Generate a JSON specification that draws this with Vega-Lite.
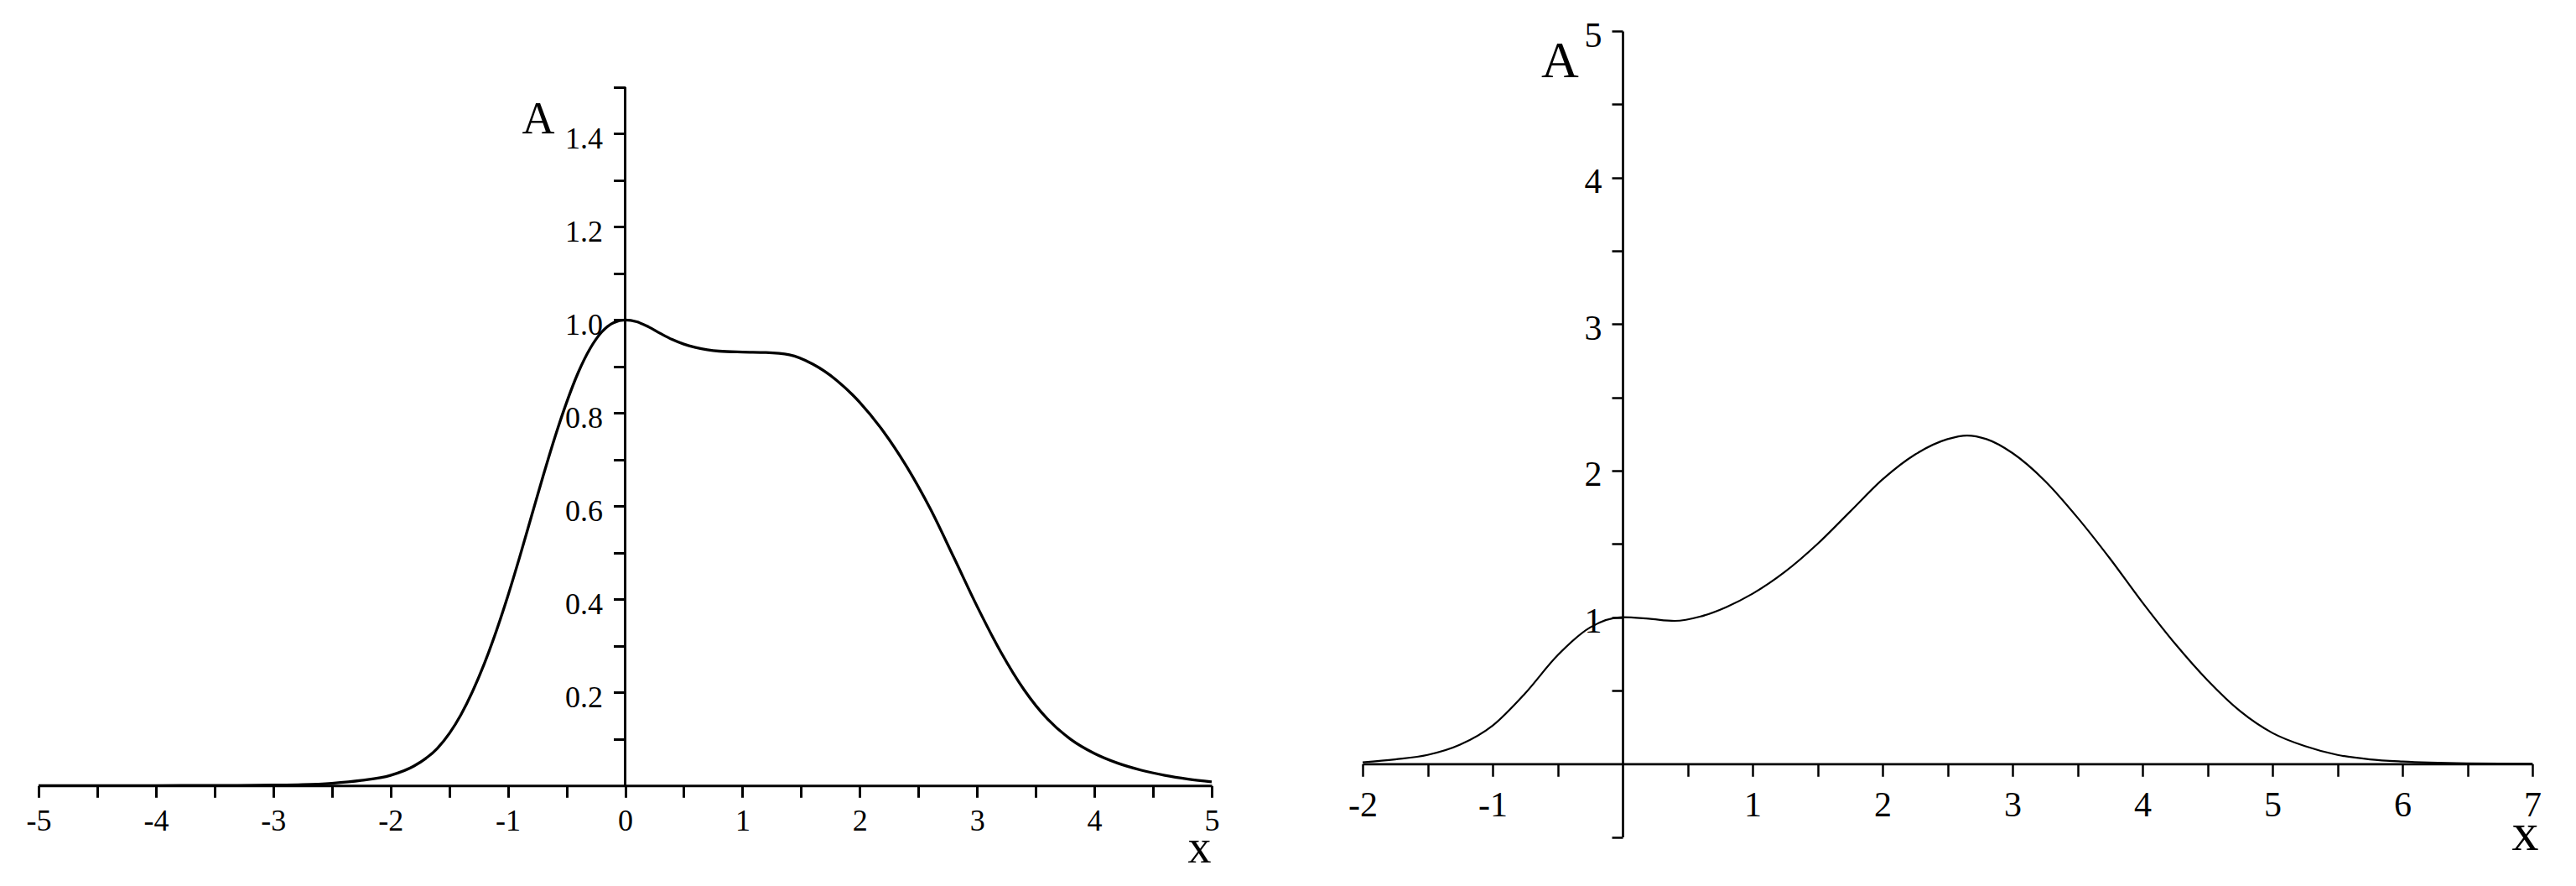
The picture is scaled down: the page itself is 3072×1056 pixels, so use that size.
{
  "$schema": "https://vega.github.io/schema/vega-lite/v6.json",
  "background": "white",
  "autosize": {"type": "pad"},
  "padding": {"left": 31, "top": 21, "right": 0, "bottom": 0},
  "bounds": "flush",
  "spacing": 180,
  "config": {
    "view": {"stroke": null},
    "axis": {
      "domainColor": "black", "tickColor": "black", "labelColor": "black", "titleColor": "black",
      "labelFont": "Liberation Serif", "titleFont": "Liberation Serif", "grid": false,
      "labelFlush": false, "labelOverlap": false, "titleFontWeight": "normal", "tickCap": "butt", "domainCap": "butt"
    }
  },
  "datasets": {
    "left": [
      {"x": -5, "A": 0.0}, {"x": -4.5, "A": 0.0}, {"x": -4, "A": 0.0}, {"x": -3.5, "A": 0.0003},
      {"x": -3, "A": 0.001}, {"x": -2.75, "A": 0.002}, {"x": -2.5, "A": 0.005}, {"x": -2.25, "A": 0.011},
      {"x": -2.0, "A": 0.022}, {"x": -1.8, "A": 0.042}, {"x": -1.6, "A": 0.08}, {"x": -1.4, "A": 0.152},
      {"x": -1.2, "A": 0.262}, {"x": -1.0, "A": 0.407}, {"x": -0.9, "A": 0.49}, {"x": -0.8, "A": 0.577},
      {"x": -0.7, "A": 0.664}, {"x": -0.6, "A": 0.747}, {"x": -0.5, "A": 0.822}, {"x": -0.4, "A": 0.887},
      {"x": -0.3, "A": 0.938}, {"x": -0.2, "A": 0.974}, {"x": -0.1, "A": 0.994}, {"x": 0, "A": 1.0},
      {"x": 0.1, "A": 0.996}, {"x": 0.2, "A": 0.985}, {"x": 0.3, "A": 0.971}, {"x": 0.4, "A": 0.958},
      {"x": 0.5, "A": 0.948}, {"x": 0.6, "A": 0.941}, {"x": 0.7, "A": 0.936}, {"x": 0.8, "A": 0.933},
      {"x": 1.0, "A": 0.931}, {"x": 1.2, "A": 0.93}, {"x": 1.4, "A": 0.925}, {"x": 1.6, "A": 0.905},
      {"x": 1.8, "A": 0.871}, {"x": 2.0, "A": 0.823}, {"x": 2.2, "A": 0.761}, {"x": 2.4, "A": 0.685},
      {"x": 2.6, "A": 0.595}, {"x": 2.8, "A": 0.491}, {"x": 3.0, "A": 0.385}, {"x": 3.2, "A": 0.288},
      {"x": 3.4, "A": 0.206}, {"x": 3.6, "A": 0.143}, {"x": 3.8, "A": 0.099}, {"x": 4.0, "A": 0.069},
      {"x": 4.2, "A": 0.048}, {"x": 4.4, "A": 0.033}, {"x": 4.6, "A": 0.022}, {"x": 4.8, "A": 0.014},
      {"x": 5.0, "A": 0.008}
    ],
    "right": [
      {"x": -2, "A": 0.01}, {"x": -1.75, "A": 0.03}, {"x": -1.5, "A": 0.06}, {"x": -1.25, "A": 0.13},
      {"x": -1, "A": 0.26}, {"x": -0.75, "A": 0.48}, {"x": -0.5, "A": 0.74}, {"x": -0.25, "A": 0.93},
      {"x": 0, "A": 1.0}, {"x": 0.2, "A": 0.99}, {"x": 0.4, "A": 0.975}, {"x": 0.6, "A": 1.005},
      {"x": 0.8, "A": 1.07}, {"x": 1.0, "A": 1.16}, {"x": 1.25, "A": 1.31}, {"x": 1.5, "A": 1.5},
      {"x": 1.75, "A": 1.72}, {"x": 2.0, "A": 1.94}, {"x": 2.25, "A": 2.11}, {"x": 2.5, "A": 2.215},
      {"x": 2.65, "A": 2.24}, {"x": 2.8, "A": 2.215}, {"x": 3.0, "A": 2.12}, {"x": 3.25, "A": 1.93},
      {"x": 3.5, "A": 1.68}, {"x": 3.75, "A": 1.4}, {"x": 4.0, "A": 1.1}, {"x": 4.25, "A": 0.82},
      {"x": 4.5, "A": 0.57}, {"x": 4.75, "A": 0.36}, {"x": 5.0, "A": 0.21}, {"x": 5.25, "A": 0.12},
      {"x": 5.5, "A": 0.06}, {"x": 5.75, "A": 0.03}, {"x": 6.0, "A": 0.015}, {"x": 6.5, "A": 0.003},
      {"x": 7.0, "A": 0.0}
    ]
  },
  "hconcat": [
    {
      "width": 1399,
      "height": 899.3,
      "layer": [
        {
          "data": {"name": "left"},
          "mark": {"type": "line", "interpolate": "monotone", "strokeWidth": 3.3, "color": "black"},
          "encoding": {
            "x": {
              "field": "x", "type": "quantitative",
              "scale": {"domain": [-5, 5], "nice": false, "zero": false},
              "axis": {
                "orient": "bottom",
                "values": [-5, -4.5, -4, -3.5, -3, -2.5, -2, -1.5, -1, -0.5, 0, 0.5, 1, 1.5, 2, 2.5, 3, 3.5, 4, 4.5, 5],
                "domainWidth": 3, "tickWidth": 3, "tickSize": 14,
                "labelExpr": "datum.value % 1 == 0 ? '' + datum.value : ''",
                "labelFontSize": 36, "labelBaseline": "alphabetic", "labelPadding": 39,
                "encode": {"ticks": {"update": {
                  "y": {"signal": "datum.value % 1 == 0 ? -14 : -7.5"},
                  "y2": {"signal": "datum.value % 1 == 0 ? 14 : 7.5"}
                }}},
                "title": "x", "titleFontSize": 56, "titleX": 1384, "titleY": 91,
                "titleAlign": "center", "titleBaseline": "alphabetic", "titleAngle": 0
              }
            },
            "y": {
              "field": "A", "type": "quantitative",
              "scale": {"domain": [0, 1.6204], "nice": false, "zero": false},
              "axis": {
                "orient": "left", "offset": -699.5, "domain": false,
                "values": [0.1, 0.2, 0.3, 0.4, 0.5, 0.6, 0.7, 0.8, 0.9, 1.0, 1.1, 1.2, 1.3, 1.4, 1.5],
                "tickWidth": 3, "tickSize": 14,
                "labelExpr": "round(datum.value*10) % 2 == 0 ? format(datum.value, '.1f') : ''",
                "labelFontSize": 36, "labelBaseline": "alphabetic", "labelOffset": 17, "labelPadding": 13,
                "encode": {"ticks": {"update": {
                  "x": {"signal": "round(datum.value*10) % 2 == 0 ? 14 : 7.5"},
                  "x2": {"signal": "round(datum.value*10) % 2 == 0 ? -14 : -7.5"}
                }}},
                "title": "A", "titleFontSize": 54, "titleX": -104, "titleY": 121.3,
                "titleAlign": "center", "titleBaseline": "alphabetic", "titleAngle": 0
              }
            }
          }
        },
        {
          "data": {"values": [{}]},
          "mark": {"type": "rule", "strokeWidth": 3, "color": "black", "strokeCap": "butt"},
          "encoding": {
            "x": {"datum": 0, "type": "quantitative"},
            "y": {"datum": 0, "type": "quantitative"},
            "y2": {"datum": 1.5}
          }
        }
      ]
    },
    {
      "width": 1395,
      "height": 960.6,
      "data": {"name": "right"},
      "mark": {"type": "line", "interpolate": "monotone", "strokeWidth": 2.2, "color": "black"},
      "encoding": {
        "x": {
          "field": "x", "type": "quantitative",
          "scale": {"domain": [-2, 7], "nice": false, "zero": false},
          "axis": {
            "orient": "bottom", "offset": -87.3,
            "values": [-2, -1.5, -1, -0.5, 0.5, 1, 1.5, 2, 2.5, 3, 3.5, 4, 4.5, 5, 5.5, 6, 6.5, 7],
            "domainWidth": 2.7, "tickWidth": 2.5, "tickSize": 15,
            "labelExpr": "datum.value % 1 == 0 ? '' + datum.value : ''",
            "labelFontSize": 42, "labelBaseline": "alphabetic", "labelPadding": 47,
            "encode": {"ticks": {"update": {
              "y": {"signal": "datum.value % 1 == 0 ? -15 : -8"},
              "y2": {"signal": "datum.value % 1 == 0 ? 15 : 8"}
            }}},
            "title": "x", "titleFontSize": 64, "titleX": 1386, "titleY": 102,
            "titleAlign": "center", "titleBaseline": "alphabetic", "titleAngle": 0
          }
        },
        "y": {
          "field": "A", "type": "quantitative",
          "scale": {"domain": [-0.5, 5], "nice": false, "zero": false},
          "axis": {
            "orient": "left", "offset": -310,
            "values": [-0.5, 0.5, 1, 1.5, 2, 2.5, 3, 3.5, 4, 4.5, 5],
            "domainWidth": 2.7, "tickWidth": 2.5, "tickSize": 13,
            "labelExpr": "datum.value % 1 == 0 ? '' + datum.value : ''",
            "labelFontSize": 42, "labelBaseline": "alphabetic", "labelOffset": 18, "labelPadding": 12,
            "encode": {"ticks": {"update": {
              "x": {"signal": "datum.value % 1 == 0 ? 13 : 7"},
              "x2": {"signal": "datum.value % 1 == 0 ? -13 : -7"}
            }}},
            "title": "A", "titleFontSize": 62, "titleX": -75, "titleY": 54.3,
            "titleAlign": "center", "titleBaseline": "alphabetic", "titleAngle": 0
          }
        }
      }
    }
  ]
}
